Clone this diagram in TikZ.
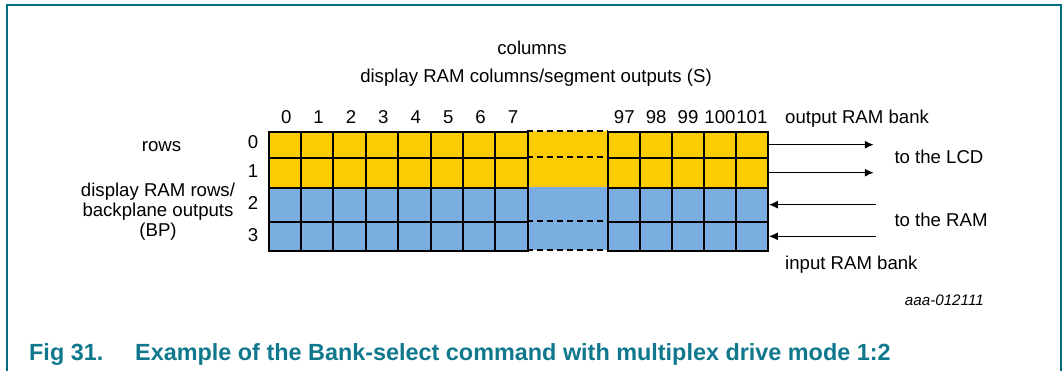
\documentclass[tikz,border=0pt]{standalone}
\usepackage{fontspec}
\setmainfont{Liberation Sans}
\usetikzlibrary{positioning,arrows.meta}
\definecolor{bankyellow}{RGB}{252,204,0}
\definecolor{bankblue}{RGB}{122,174,224}
\definecolor{frameteal}{RGB}{0,110,128}
\definecolor{capteal}{RGB}{16,120,140}
\begin{document}
\begin{tikzpicture}[x=1pt,y=-1pt,
	font=\fontsize{18.6}{20}\selectfont,
	cell/.style = {draw, line width=2pt, inner sep=0pt, anchor=north west, minimum width=32.4pt},
	gap node/.style = {inner sep=0pt, anchor=north west, minimum width=80.6pt},
	label node/.style = {inner sep=0pt},
	caption text/.style = {inner sep=0pt, anchor=base west, text=capteal, font=\fontsize{23.4}{27}\selectfont\bfseries},
	link/.style = {line width=1.4pt, -{Latex[length=9pt,width=8pt]}}]
	\useasboundingbox (0,0) rectangle (1063,371);
	\draw[frameteal, line width=2pt] (7,371) -- (7,5) -- (1061,5) -- (1061,371);
	
	% the two banks
	\foreach \r/\ytop/\hgt/\fc in {0/130.7/26/bankyellow, 1/156.7/30/bankyellow, 2/186.7/34/bankblue, 3/220.7/29.3/bankblue} {
		\node[gap node, fill=\fc, minimum height=\hgt pt] (g\r) at (526.7,\ytop) {};
		\foreach \c in {0,...,7}
			\node[cell, fill=\fc, minimum height=\hgt pt] (c\r-\c) at (267.5+32.4*\c,\ytop) {};
		\foreach \c [count=\k from 0] in {97,...,101}
			\node[cell, fill=\fc, minimum height=\hgt pt, minimum width=31.9pt] (c\r-\c) at (607.3+31.9*\k,\ytop) {};
	}
	\draw[line width=2pt, dash pattern=on 6pt off 4pt]
	(g0.north west) -- (g0.north east)
	(g1.north west) -- (g1.north east)
	(g3.north west) -- (g3.north east)
	(g3.south west) -- (g3.south east);
	
	% numbers
	\coordinate (numline) at (0,123.3);
	\foreach \c in {0,...,7}
		\node[label node, anchor=base] (n\c) at ([xshift=1.5pt]c0-\c.north |- numline) {\c};
	\foreach \c in {97,...,101}
		\node[label node, anchor=base] (n\c) at (c0-\c.north |- numline) {\c};
	\foreach \r/\yb in {0/148.3, 1/177.3, 2/210, 3/241.7}
		\node[label node, anchor=base] (r\r) at (253,\yb) {\r};
	
	\node[label node, anchor=base] (coltitle) at (532,55) {columns};
	\node[label node, anchor=base] (colsub) at (536,83) {display RAM columns/segment outputs (S)};
	\node[label node, anchor=base] (rowtitle) at (161.5,151.7) {rows};
	\node[label node, anchor=north, align=center] (rowsub) at (158,182.5) {display RAM rows/\\backplane outputs\\(BP)};
	\node[label node, anchor=base west] (outbank) at (785,123.3) {output RAM bank};
	\node[label node, anchor=base west] (tolcd) at (894.3,163.3) {to the LCD};
	\node[label node, anchor=base west] (toram) at (894.3,226.7) {to the RAM};
	\node[label node, anchor=base west] (inbank) at (785,270) {input RAM bank};
	\node[label node, anchor=base east, font=\fontsize{15.2}{18}\selectfont\itshape] (figid) at (984,306) {aaa-012111};
	
	\coordinate[right=105pt of c0-101.east] (lcd0);
	\coordinate[right=105pt of c1-101.east] (lcd1);
	\coordinate[right=107pt of c2-101.east] (ram2);
	\coordinate[right=107pt of c3-101.east] (ram3);
	\path[link]
	(c0-101.east) edge (lcd0)
	(c1-101.east) edge (lcd1)
	(ram2) edge (c2-101.east)
	(ram3) edge (c3-101.east);
	
	\node[caption text] (fignum) at (29,360) {Fig 31.};
	\node[caption text] (figtitle) at (135,360) {Example of the Bank-select command with multiplex drive mode 1:2};
\end{tikzpicture}
\end{document}
